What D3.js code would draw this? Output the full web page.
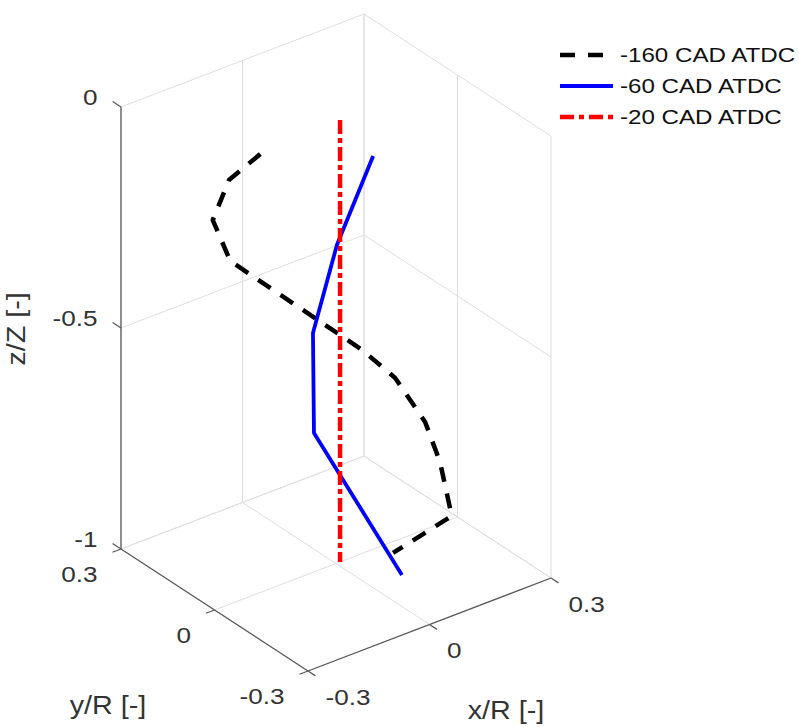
<!DOCTYPE html>
<html>
<head>
<meta charset="utf-8">
<script src="https://cdn.jsdelivr.net/npm/d3@7"></script>
<style>
body { margin: 0; background: #fff; }
text { font-family: "Liberation Sans", Arial, sans-serif; }
</style>
</head>
<body>
<div id="chart"></div>
<script>
// axis ticks
const xTicks = [-0.3, 0, 0.3]
const yTicks = [-0.3, 0, 0.3]
const zTicks = [-1, -0.5, 0]

// vortex centre path at each crank angle (x/R, y/R, z/Z)
const cad160_x = [-0.090, -0.148, -0.195, -0.181, 0.023, 0.113, 0.160, 0.193, 0.188, 0.114]
const cad160_y = [0.126, 0.151, 0.142, 0.104, -0.054, -0.043, -0.078, -0.083, -0.127, -0.035]
const cad160_z = [-0.1, -0.15, -0.22, -0.3, -0.5, -0.6, -0.7, -0.8, -0.9, -1.0]

const cad60_x = [0.081, 0.023, -0.013, -0.039, 0.075]
const cad60_y = [-0.014, 0.027, 0.057, 0.020, -0.114]
const cad60_z = [-0.1, -0.3, -0.5, -0.7, -1.0]

const cad20_x = [0.01, 0.01]
const cad20_y = [0, 0]
const cad20_z = [0, -1]

const seriesNames = ["-160 CAD ATDC", "-60 CAD ATDC", "-20 CAD ATDC"]

const width = 799, height = 727
const stretch = 1.15   // the figure text is drawn a little wide

// screen frame of the 3d box: origin is the corner (x=-0.3, y=-0.3, z=-1)
const origin = [308, 671]
const ex = [243, -93], ey = [-187, -122], ez = [0, -442]

const x = d3.scaleLinear().domain([-0.3, 0.3]).range([0, 1])
const y = d3.scaleLinear().domain([-0.3, 0.3]).range([0, 1])
const z = d3.scaleLinear().domain([-1, 0]).range([0, 1])

function proj(p) {
	const a = x(p[0]), b = y(p[1]), c = z(p[2])
	return [origin[0] + a * ex[0] + b * ey[0] + c * ez[0],
		origin[1] + a * ex[1] + b * ey[1] + c * ez[1]]
}
const at = (px, py) => `translate(${px}, ${py}) scale(${stretch}, 1)`

const line = d3.line().x(d => proj(d)[0]).y(d => proj(d)[1])

const svg = d3.select("#chart")
	.append("svg")
		.attr("width", width)
		.attr("height", height)

// grid on the three back planes
const grid = []
xTicks.forEach(t => {
	grid.push([[t, 0.3, -1], [t, 0.3, 0]])
	grid.push([[t, -0.3, -1], [t, 0.3, -1]])
})
yTicks.forEach(t => {
	grid.push([[0.3, t, -1], [0.3, t, 0]])
	grid.push([[-0.3, t, -1], [0.3, t, -1]])
})
zTicks.forEach(t => {
	grid.push([[-0.3, 0.3, t], [0.3, 0.3, t]])
	grid.push([[0.3, -0.3, t], [0.3, 0.3, t]])
})

svg.append("g").selectAll("path")
	.data(grid)
	.join("path")
		.attr("d", line)
		.attr("fill", "none")
		.attr("stroke", "#dedede")
		.attr("stroke-width", 1)

// axis lines and ticks
const axes = [
	[[-0.3, 0.3, -1], [-0.3, 0.3, 0]],
	[[-0.3, -0.3, -1], [-0.3, 0.3, -1]],
	[[-0.3, -0.3, -1], [0.3, -0.3, -1]]
]
const ticks = []
zTicks.forEach(t => ticks.push([[-0.3, 0.3, t], [-0.3, 0.327, t]]))
yTicks.forEach(t => ticks.push([[-0.3, t, -1], [-0.321, t, -1]]))
xTicks.forEach(t => ticks.push([[t, -0.3, -1], [t, -0.324, -1]]))

svg.append("g").selectAll("path")
	.data(axes.concat(ticks))
	.join("path")
		.attr("d", line)
		.attr("fill", "none")
		.attr("stroke", "#5a5a5a")
		.attr("stroke-width", 1.3)

// tick labels
const lab = svg.append("g")
	.attr("font-size", 22.7)
	.attr("fill", "#333")

lab.selectAll(".zl")
	.data(zTicks)
	.join("text")
		.attr("transform", d => at(proj([-0.3, 0.327, d])[0] - 15, proj([-0.3, 0.327, d])[1] - 4))
		.attr("text-anchor", "end")
		.attr("dominant-baseline", "central")
		.text(d => String(d))

lab.selectAll(".yl")
	.data(yTicks)
	.join("text")
		.attr("transform", d => at(proj([-0.321, d, -1])[0] - 15, proj([-0.321, d, -1])[1] + 22))
		.attr("text-anchor", "end")
		.attr("dominant-baseline", "central")
		.text(d => String(d))

lab.selectAll(".xl")
	.data(xTicks)
	.join("text")
		.attr("transform", d => at(proj([d, -0.324, -1])[0] + 10, proj([d, -0.324, -1])[1] + 21))
		.attr("text-anchor", "start")
		.attr("dominant-baseline", "central")
		.text(d => String(d))

// axis titles
const titles = svg.append("g")
	.attr("font-size", 25)
	.attr("fill", "#333")
	.attr("text-anchor", "middle")

titles.append("text")
	.attr("transform", at(108, 706))
	.attr("dominant-baseline", "central")
	.text("y/R [-]")
titles.append("text")
	.attr("transform", at(506, 711))
	.attr("dominant-baseline", "central")
	.text("x/R [-]")
titles.append("text")
	.attr("transform", `translate(17, 329) rotate(-90) scale(${stretch}, 1)`)
	.attr("dominant-baseline", "central")
	.text("z/Z [-]")

// the three curves
const zip = (a, b, c) => a.map((v, i) => [v, b[i], c[i]])
const series = [
	{pts: zip(cad160_x, cad160_y, cad160_z), color: "#000", dash: "15,12", w: 4.5},
	{pts: zip(cad60_x, cad60_y, cad60_z), color: "#0000ff", dash: null, w: 3.8},
	{pts: zip(cad20_x, cad20_y, cad20_z), color: "#ff0000", dash: "14,4,5,4", w: 4.5}
]

svg.append("g").selectAll("path")
	.data(series)
	.join("path")
		.attr("d", d => line(d.pts))
		.attr("fill", "none")
		.attr("stroke", d => d.color)
		.attr("stroke-width", d => d.w)
		.attr("stroke-dasharray", d => d.dash)
		.attr("stroke-linejoin", "round")

// legend
const legend = svg.append("g")
	.attr("transform", "translate(560, 55)")

const item = legend.selectAll("g")
	.data(series)
	.join("g")
		.attr("transform", (d, i) => `translate(0, ${i * 31})`)

item.append("line")
	.attr("x1", 0).attr("x2", 53)
	.attr("stroke", d => d.color)
	.attr("stroke-width", d => d.w)
	.attr("stroke-dasharray", (d, i) => i == 0 ? "15,13" : (i == 2 ? "14,5,5,5" : null))

item.append("text")
	.attr("transform", at(60, 0))
	.attr("dominant-baseline", "central")
	.attr("font-size", 21)
	.attr("fill", "#111")
	.text((d, i) => seriesNames[i])
</script>
</body>
</html>
